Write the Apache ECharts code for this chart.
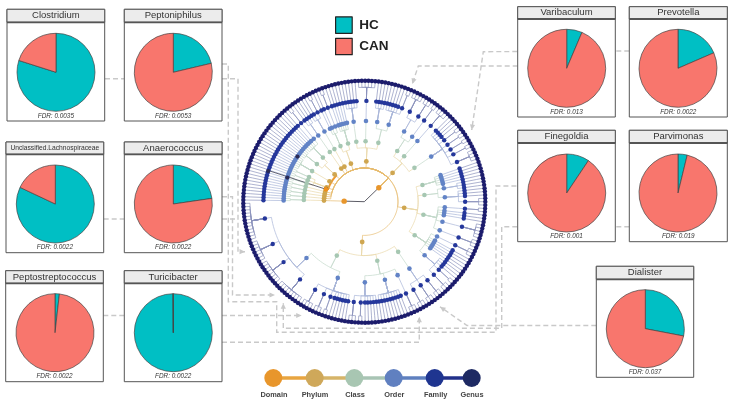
<!DOCTYPE html>
<html><head><meta charset="utf-8">
<style>html,body{margin:0;padding:0;background:#fff}#c{width:734px;height:405px}</style>
<script src="https://cdn.jsdelivr.net/npm/echarts@6/dist/echarts.min.js"></script>
</head><body><div id="c"></div>
<script>
// ---------- pie data ----------
const genera = ['Clostridium','Peptoniphilus','Unclassified.Lachnospiraceae','Anaerococcus','Peptostreptococcus','Turicibacter','Varibaculum','Prevotella','Finegoldia','Parvimonas','Dialister'];
const hcShare = [79.9,21.3,82,22.7,1.8,99.9,6.4,18.5,9.4,3.8,28];
const fdr = ['0.0035','0.0053','0.0022','0.0022','0.0022','0.0022','0.013','0.0022','0.001','0.019','0.037'];
const groups = ['HC','CAN'];
const ranks = ['Domain','Phylum','Class','Order','Family','Genus'];

// ---------- taxonomy: domain > phylum > class > order > family (number = genera in that family) ----------
const pair = [[1],[1]];
const domainLeft = [[pair]];
const domainMain = {angle:136, kids:[
  [pair],[pair],[pair],[pair],
  [pair,pair,pair],
  [[[1],[1],[1],[1],[1],[1]]],
  [[[1],[1],[1],[1]],[[1],[1],[1],[1],[1],[2]]],
  [[[1,1,1]]],
  [[[1,1,2]]],
  [[[1],[1],[2]],[[1],[1],[1],[1],[1]]],
  [[[1,1,1,1,1]],[[6]],[[1,1,1,1],[1,1,1,1,1,2]]],
  [[[4,3],[2]],[[4]],[[1,1,1,1,2,2,2,2,4]]],
  [[[1],[1],[1],[1],[1]],[[1,1,1],[1,1,1,3]],[[2],[1],[1],[1],[5],[3]],[[3],[1],[1],[1],[1],[1],[1,1,1,2,3]]],
  {angle:273, kids:[
    [[3,3,3]],
    [[3],[1,1,1,1,1,1,1,1,1],[1,1,1,1,1,2,3]],
    {angle:297, kids:[[1,1,1,1,1,1,2,3,4],{angle:315.8, kids:[9,8,7,12]}]}
  ]}
]};
// highlighted lineage: [rank level, angle clockwise from west]
const darkNodes = [[2,18.7],[4,17.4],[5,17.7],[4,34]];
const orangeArc = [18,44];

// ---------- style & layout ----------
const FONT = 'Liberation Sans';
const nodeColors = ['#e8962c','#cfa650','#a6c7b2','#6283c6','#25379b','#1c1c6c'];
const linkColors = ['#e6bb70','#e9d9ab','#c3d8ca','#a9b6d8','#8b92bc'];
const nodeSizes = [5.4,4.8,4.6,4.6,4.4,4.4];
const boxes = [ // x0,x1,y0,titleBottom,y1,cx,cy,titleSize
 [7,104.7,9.3,22.3,121,56,72.3,9.5],
 [124.3,222,9.3,22.3,121,173.3,72.3,9.5],
 [6,103.7,142,154.3,252.7,55.3,204,6.7],
 [124.3,222,142,154.3,252.7,173.3,204,9.5],
 [5.7,103.3,270.7,283.3,381.7,55,332.7,9.5],
 [124.3,222,270.7,283.3,381.7,173.3,332.7,9.5],
 [517.7,615.3,6.7,19,117,566.7,68.3,9.5],
 [629.3,727.3,6.7,19,117,678,68.3,9.5],
 [517.7,615.3,130.3,143,241.7,566.7,193,9.5],
 [629.3,727.3,130.3,143,241.7,678,193,9.5],
 [596.3,693.7,266.3,279.3,377.3,645.3,328.7,9.5]
];
const connectors = [ // [points, hasArrow]
 [[[105,78.7],[124,78.7]],0],
 [[[103.7,219],[124,219]],0],
 [[[103.3,315.5],[124,315.5]],0],
 [[[222,78.7],[238,78.7],[238,251.7],[245,251.7]],1],
 [[[222,219],[238,219]],0],
 [[[222,64],[228.3,64],[228.3,301.7],[276.7,301.7],[276.7,332.3],[496,332.3],[496,186],[517.7,186]],0],
 [[[222,196.7],[232.5,196.7],[232.5,295],[275,295]],1],
 [[[222,315.5],[301.7,315.5]],1],
 [[[222,342.3],[419.3,342.3],[419.3,316.7]],1],
 [[[629.3,226.7],[501.7,226.7],[501.7,328.3],[283.3,328.3],[283.3,303.3]],1],
 [[[596.3,325.5],[467,325.5],[440,306.7]],1],
 [[[629.3,51],[483.3,51.7],[471.7,130]],1],
 [[[517.7,66],[418.3,66],[412.3,84]],1]
];
const rankDots = [273.3,314.7,354.3,393.7,434.7,471.7];
const rankLabelX = [274,315,355,394.3,435.7,472];

// ---------- tree layout from the counts above ----------
const nodes = [[],[],[],[],[],[]];
const links = [];
function kidsOf(n){return Array.isArray(n)?n:n.kids;}
function countLeaves(n){return typeof n==='number'?n:kidsOf(n).reduce((s,k)=>s+countLeaves(k),0);}
const total = countLeaves(domainLeft)+countLeaves(domainMain);
const step = 360/total;
let leafIndex = 0;
function walk(n,level){
  let kidAngles;
  if(typeof n==='number'){
    kidAngles=[];
    for(let i=0;i<n;i++){const a=(leafIndex++ +0.5)*step;kidAngles.push(a);nodes[5].push([6,a]);}
  } else {
    kidAngles=kidsOf(n).map(k=>walk(k,level+1));
  }
  const a=(typeof n==='object'&&n.angle!==undefined)?n.angle:(kidAngles[0]+kidAngles[kidAngles.length-1])/2;
  nodes[level-1].push([level,a]);
  kidAngles.forEach(c=>links.push([level,a,c]));
  return a;
}
const rootKids=[walk(domainLeft,1),walk(domainMain,1)];
const rootLinks=rootKids.map(a=>[0,a,a]);

// ---------- graphics ----------
const g=[];
const dash={stroke:'#c9c9c9',lineWidth:1.4,lineDash:[5,3],fill:null};
connectors.forEach(([pts,arrow])=>{
  g.push({type:'polyline',z:0,shape:{points:pts},style:dash,silent:true});
  if(arrow){
    const e=pts[pts.length-1],p=pts[pts.length-2],an=Math.atan2(e[1]-p[1],e[0]-p[0]),L=5.5,W=2.6;
    const bx=e[0]-L*Math.cos(an),by=e[1]-L*Math.sin(an);
    g.push({type:'polygon',z:0,silent:true,shape:{points:[e,[bx-W*Math.sin(an),by+W*Math.cos(an)],[bx+W*Math.sin(an),by-W*Math.cos(an)]]},style:{fill:'#c9c9c9'}});
  }
});
boxes.forEach((b,i)=>{
  const [x0,x1,y0,t,y1,cx,cy,ts]=b;
  g.push({type:'rect',z:1,silent:true,shape:{x:x0,y:y0,width:x1-x0,height:y1-y0},style:{fill:'#fff',stroke:'#555',lineWidth:1}});
  g.push({type:'rect',z:1,silent:true,shape:{x:x0,y:y0,width:x1-x0,height:t-y0},style:{fill:'#ececec',stroke:'#555',lineWidth:1}});
  g.push({type:'line',z:1,silent:true,shape:{x1:x0,y1:t,x2:x1,y2:t},style:{stroke:'#555',lineWidth:1.8}});
  g.push({type:'text',z:5,silent:true,style:{text:genera[i],x:(x0+x1)/2,y:(y0+t)/2,align:'center',verticalAlign:'middle',fontFamily:FONT,fontSize:ts,fill:'#333'}});
  g.push({type:'text',z:5,silent:true,style:{text:'FDR: '+fdr[i],x:(x0+x1)/2,y:y1-5,align:'center',verticalAlign:'middle',fontFamily:FONT,fontSize:6.4,fontStyle:'italic',fill:'#333'}});
});
rankDots.forEach((x,i)=>{
  if(i<5) g.push({type:'line',z:1,silent:true,shape:{x1:x,y1:378,x2:rankDots[i+1],y2:378},style:{stroke:['#e8a540','#d6b468','#a8c4b4','#5f80bf','#22308a'][i],lineWidth:3.4}});
});
rankDots.forEach((x,i)=>{
  g.push({type:'circle',z:2,silent:true,shape:{cx:x,cy:378,r:9},style:{fill:['#e8962c','#cfa85a','#a8c6b2','#6080c0','#1f3590','#1e2a63'][i]}});
  g.push({type:'text',z:5,silent:true,style:{text:ranks[i],x:rankLabelX[i],y:394.7,align:'center',verticalAlign:'middle',fontFamily:FONT,fontSize:7.4,fontWeight:'bold',fill:'#444'}});
});

// ---------- series ----------
const pies=genera.map((name,i)=>({
  type:'pie',name,z:3,silent:true,animation:false,radius:39,center:[boxes[i][5],boxes[i][6]],startAngle:90,
  label:{show:false},labelLine:{show:false},
  itemStyle:{borderColor:'#444',borderWidth:0.7},
  data:[{name:groups[0],value:hcShare[i],itemStyle:{color:'#00BFC4'}},
        {name:groups[1],value:+(100-hcShare[i]).toFixed(1),itemStyle:{color:'#F8766D'}}]
}));
function branch(params,api){
  const L=api.value(0),pa=api.value(1),ca=api.value(2);
  const pts=[];
  if(L===0){pts.push(api.coord([0,0]),api.coord([1,ca]));}
  else{
    const m=L+0.67;
    pts.push(api.coord([L,pa]));
    const n=Math.max(1,Math.ceil(Math.abs(ca-pa)/2));
    for(let i=0;i<=n;i++)pts.push(api.coord([m,pa+(ca-pa)*i/n]));
    pts.push(api.coord([L+1,ca]));
  }
  return {type:'polyline',shape:{points:pts},style:{fill:null,stroke:L===0?'#4a4a55':linkColors[L-1],lineWidth:L===0?0.9:0.7}};
}
const treeSeries=[
  {type:'custom',coordinateSystem:'polar',polarIndex:0,z:2,silent:true,animation:false,renderItem:branch,clip:false,
   encode:{radius:0,angle:2},data:links.concat(rootLinks)},
  {type:'custom',coordinateSystem:'polar',polarIndex:0,z:2,silent:true,animation:false,clip:false,encode:{radius:0,angle:1},
   data:[[2,orangeArc[0],orangeArc[1]]],
   renderItem:(p,api)=>{const pts=[],a=api.value(1),b=api.value(2);for(let t=a;t<=b;t+=2)pts.push(api.coord([1.9,t]));
     return {type:'polyline',z2:5,shape:{points:pts},style:{fill:null,stroke:'#ee9a30',lineWidth:2}};}},
  {type:'custom',coordinateSystem:'polar',polarIndex:0,z:2,silent:true,animation:false,clip:false,encode:{radius:0,angle:1},
   data:[[2,18,5]],
   renderItem:(p,api)=>({type:'line',z2:5,shape:{x1:api.coord([api.value(0),api.value(1)])[0],y1:api.coord([api.value(0),api.value(1)])[1],
     x2:api.coord([api.value(2),api.value(1)])[0],y2:api.coord([api.value(2),api.value(1)])[1]},style:{stroke:'#3f3f50',lineWidth:0.8}})}
];
const nodeSeries=nodes.map((d,i)=>({
  type:'scatter',name:ranks[i],coordinateSystem:'polar',polarIndex:0,z:3,silent:true,animation:false,clip:false,
  symbolSize:nodeSizes[i],itemStyle:{color:nodeColors[i],opacity:1},data:d
}));
nodeSeries.push({type:'scatter',name:'lineage',coordinateSystem:'polar',polarIndex:0,z:4,silent:true,animation:false,
  symbolSize:4.2,itemStyle:{color:'#2a2a55',opacity:1},data:darkNodes});
nodeSeries.push({type:'scatter',name:'lineage phylum',coordinateSystem:'polar',polarIndex:0,z:4,silent:true,animation:false,
  symbolSize:4.8,itemStyle:{color:'#ee8f1c',opacity:1},data:[[2,orangeArc[0]]]});

const chart=echarts.init(document.getElementById('c'),null,{renderer:'canvas'});
chart.setOption({
  animation:false,backgroundColor:'#fff',
  tooltip:{show:false},
  textStyle:{fontFamily:FONT},
  legend:{data:groups,selectedMode:false,orient:'vertical',left:335,top:16.3,padding:0,itemWidth:16.6,itemHeight:16.4,itemGap:3.8,icon:'rect',
    itemStyle:{borderColor:'#222',borderWidth:1.2},
    textStyle:{fontFamily:FONT,fontSize:13.5,fontWeight:'bold',color:'#222',padding:[0,0,0,2]}},
  polar:{center:[364.3,201.7],radius:121},
  radiusAxis:{type:'value',min:0,max:6,show:false},
  angleAxis:{type:'value',min:0,max:360,startAngle:180,clockwise:true,show:false},
  graphic:{elements:g},
  series:[...treeSeries,...nodeSeries,...pies]
});
</script></body></html>
